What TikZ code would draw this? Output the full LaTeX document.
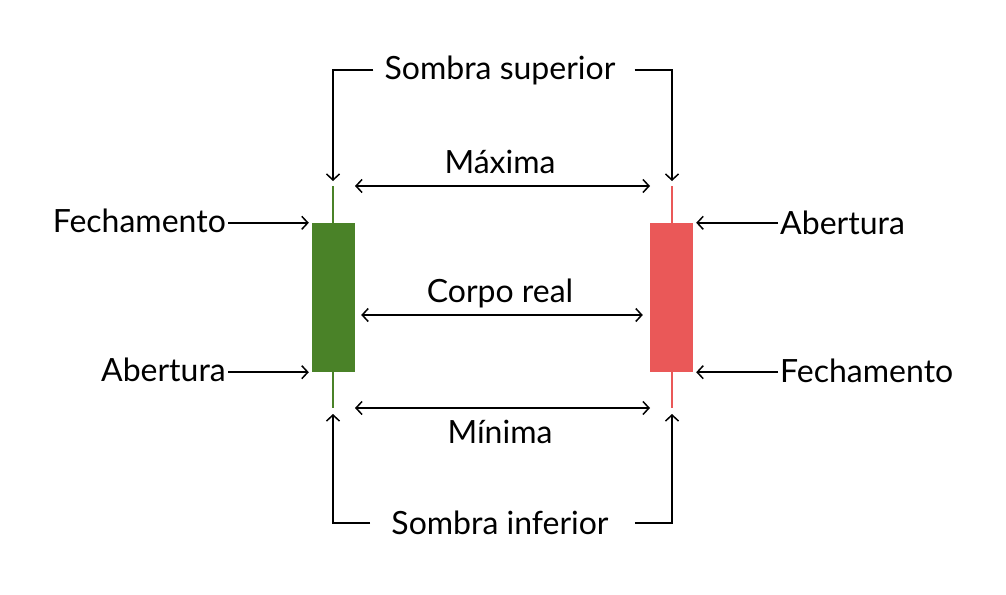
\documentclass[tikz,border=0pt]{standalone}
\usepackage{fontspec}
\setmainfont{Lato}
\usetikzlibrary{arrows.meta}

\begin{document}
\begin{tikzpicture}[x=1pt,y=1pt,>={Straight Barb[length=6pt,width=13pt]}]
				\tikzstyle{every node}=[font=\fontsize{32}{36}\selectfont,inner sep=0pt]
				\tikzstyle{conn}=[line width=1.5pt,->]
				\tikzstyle{twoway}=[line width=1.5pt,<->]
				\tikzstyle{body}=[minimum width=43pt,minimum height=149pt]
				\definecolor{candlegreen}{RGB}{74,130,40}
				\definecolor{candlered}{RGB}{234,88,88}
				\useasboundingbox (0,0) rectangle (1006,-594);
				% pavios
				\coordinate (ghigh) at (333,-186);
				\coordinate (glow) at (333,-408);
				\coordinate (rhigh) at (672,-186);
				\coordinate (rlow) at (672,-408);
				\draw[candlegreen,line width=2pt] (ghigh) -- (glow);
				\draw[candlered,line width=2pt] (rhigh) -- (rlow);
				% corpos
				\node[body,fill=candlegreen] (gbody) at (333.5,-297.5) {};
				\node[body,fill=candlered] (rbody) at (671.5,-297.5) {};
				% textos
				\node (sup) at (500,-70) {Sombra superior};
				\node (inf) at (500,-523) {Sombra inferior};
				\node (maxima) at (500,-162) {Máxima};
				\node (corpo) at (500,-293) {Corpo real};
				\node (minima) at (500,-432) {Mínima};
				\node[anchor=east] (fechL) at (226,-221) {Fechamento};
				\node[anchor=east] (abL) at (226,-370) {Abertura};
				\node[anchor=west] (abR) at (780,-223) {Abertura};
				\node[anchor=west] (fechR) at (780,-371) {Fechamento};
				% setas
				\draw[twoway] ([xshift=22pt]ghigh) -- ([xshift=-22pt]rhigh);
				\draw[twoway] ([xshift=-7pt,yshift=-17.5pt]rbody.west) -- ([xshift=6pt,yshift=-17.5pt]gbody.east);
				\draw[twoway] ([xshift=22pt]glow) -- ([xshift=-22pt]rlow);
				\draw[conn] ([xshift=-11pt]sup.west) -| ([yshift=5pt]ghigh);
				\draw[conn] ([xshift=19pt]sup.east) -| ([yshift=5pt]rhigh);
				\draw[conn] ([xshift=-21pt]inf.west) -| ([yshift=-6pt]glow);
				\draw[conn] ([xshift=26pt]inf.east) -| ([yshift=-6pt]rlow);
				\draw[conn] ([xshift=2pt]fechL.east |- gbody.north) -- ([xshift=-3pt]gbody.north west);
				\draw[conn] ([xshift=2pt]abL.east |- gbody.south) -- ([xshift=-3pt]gbody.south west);
				\draw[conn] ([xshift=-2pt]abR.west |- rbody.north) -- ([xshift=3pt]rbody.north east);
				\draw[conn] ([xshift=-2pt]fechR.west |- rbody.south) -- ([xshift=3pt]rbody.south east);
\end{tikzpicture}
\end{document}
